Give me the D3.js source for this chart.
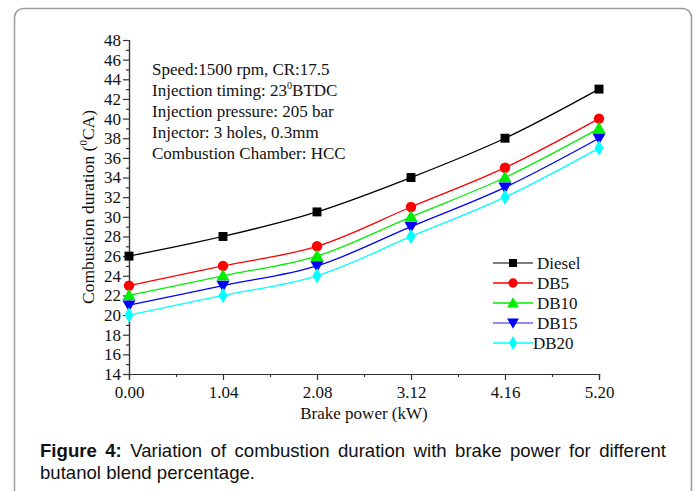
<!DOCTYPE html>
<html>
<head>
<meta charset="utf-8">
<script src="https://cdn.jsdelivr.net/npm/d3@7"></script>
<style>
  body { margin:0; background:#fff; }
  #wrap { position:relative; width:696px; height:491px; overflow:hidden; }
  .cap { position:absolute; left:40px; width:626px; font-family:"Liberation Sans", Arial, sans-serif; font-size:18.6px; color:#111; line-height:22px; }
  .cap1 { top:440px; text-align:justify; text-align-last:justify; }
  .cap2 { top:462px; }
</style>
</head>
<body>
<div id="wrap">
  <div id="chart"></div>
  <div class="cap cap1"><b>Figure 4:</b> Variation of combustion duration with brake power for different</div>
  <div class="cap cap2">butanol blend percentage.</div>
</div>
<script>
// data
var power = [0.00, 1.04, 2.08, 3.12, 4.16, 5.20];
var diesel = [26, 28, 30.5, 34, 38, 43];
var db5 = [23, 25, 27, 31, 35, 40];
var db10 = [22, 24, 26, 30, 34, 39];
var db15 = [21, 23, 25, 29, 33, 38];
var db20 = [20, 22, 24, 28, 32, 37];
var seriesNames = ["Diesel", "DB5", "DB10", "DB15", "DB20"];
var yTicks = d3.range(14, 49, 2);
var notes = ["Speed:1500 rpm, CR:17.5", "Injection timing: 23", "Injection pressure: 205 bar",
             "Injector: 3 holes, 0.3mm", "Combustion Chamber: HCC"];

var series = [
  {name: seriesNames[0], vals: diesel, color: "#000000", sym: d3.symbolSquare, size: 80, rot: 0},
  {name: seriesNames[1], vals: db5, color: "#ff0000", sym: d3.symbolCircle, size: 85, rot: 0},
  {name: seriesNames[2], vals: db10, color: "#00ee00", sym: d3.symbolTriangle, size: 75, rot: 0},
  {name: seriesNames[3], vals: db15, color: "#0000ff", sym: d3.symbolTriangle, size: 75, rot: 180},
  {name: seriesNames[4], vals: db20, color: "#00ffff", sym: d3.symbolDiamond, size: 70, rot: 0}
];

var fullWidth = 696, fullHeight = 491;
var margin = {top:40, left:129};
var width = 470, height = 334;

var root = d3.select("#chart").append("svg")
  .attr("width", fullWidth).attr("height", fullHeight);

// figure frame
root.append("rect").attr("x", 14.5).attr("y", 8.5).attr("width", 677).attr("height", 520)
  .attr("rx", 9).attr("fill", "none").attr("stroke", "#9a9a9a").attr("stroke-width", 1.5);

var svg = root.append("g").attr("transform", "translate(" + margin.left + "," + margin.top + ")");

var xScale = d3.scaleLinear().domain([0, 5.2]).range([0, width]);
var yScale = d3.scaleLinear().domain([14, 48]).range([height, 0]);

var serif = "'Liberation Serif', 'Times New Roman', serif";

// minor ticks
var yMinor = d3.axisLeft(yScale).tickValues(d3.range(15, 48, 2)).tickSize(3).tickFormat("");
var xMinor = d3.axisBottom(xScale).tickValues([0.52, 1.56, 2.6, 3.64, 4.68]).tickSize(3).tickFormat("");
svg.append("g").call(yMinor);
svg.append("g").attr("transform", "translate(0," + height + ")").call(xMinor);

var yAxis = d3.axisLeft(yScale).tickValues(yTicks).tickSize(6).tickPadding(2).tickFormat(d3.format("d"));
var xAxis = d3.axisBottom(xScale).tickValues(power).tickSize(6).tickPadding(6).tickFormat(d3.format(".2f"));
svg.append("g").attr("class", "ya").call(yAxis);
svg.append("g").attr("class", "xa").attr("transform", "translate(0," + height + ")").call(xAxis);

svg.selectAll(".domain, .tick line").attr("stroke", "#333").attr("stroke-width", 1.2);
svg.selectAll(".tick text").attr("font-family", serif).attr("font-size", 17).attr("fill", "#111");

// axis titles
svg.append("text").attr("x", width / 2).attr("y", height + 45)
  .attr("text-anchor", "middle").attr("font-family", serif).attr("font-size", 17).attr("fill", "#111")
  .text("Brake power (kW)");
var yt = svg.append("text").attr("transform", "translate(-35," + (height / 2) + ") rotate(-90)")
  .attr("text-anchor", "middle").attr("font-family", serif).attr("font-size", 17.5).attr("fill", "#111");
yt.append("tspan").text("Combustion duration (");
yt.append("tspan").attr("font-size", 11).attr("dy", -7).text("0");
yt.append("tspan").attr("dy", 7).text("CA)");

// lines + markers
var line = d3.line()
  .x(function(d, i) { return xScale(power[i]); })
  .y(function(d) { return yScale(d); })
  .curve(d3.curveCatmullRom.alpha(0.5));

series.forEach(function(s) {
  svg.append("path").attr("d", line(s.vals)).attr("fill", "none")
    .attr("stroke", s.color).attr("stroke-width", 1.3);
  svg.selectAll(null).data(s.vals).enter().append("path")
    .attr("d", d3.symbol().type(s.sym).size(s.size))
    .attr("transform", function(d, i) {
      var dy = s.sym === d3.symbolTriangle ? (s.rot ? -1 : 1) : 0;
      return "translate(" + xScale(power[i]) + "," + (yScale(d) + dy) + ") rotate(" + s.rot + ")";
    })
    .attr("fill", s.color);
});

// annotation block
var nt = svg.append("g").attr("font-family", serif).attr("font-size", 17).attr("fill", "#111");
notes.forEach(function(t, i) {
  var tx = nt.append("text").attr("x", 23).attr("y", 35 + i * 21);
  tx.append("tspan").text(t);
  if (i === 1) {
    tx.append("tspan").attr("font-size", 10).attr("dy", -7).text("0");
    tx.append("tspan").attr("dy", 7).text("BTDC");
  }
});

// legend
var lg = svg.append("g").attr("transform", "translate(364,223)");
series.forEach(function(s, i) {
  var g = lg.append("g").attr("transform", "translate(0," + (i * 20) + ")");
  g.append("line").attr("x1", 0).attr("x2", 40).attr("y1", 0).attr("y2", 0)
    .attr("stroke", i === 3 ? "#6666ff" : (i === 0 ? "#555" : s.color)).attr("stroke-width", 1.3);
  g.append("path").attr("d", d3.symbol().type(s.sym).size(s.size * 0.8))
    .attr("transform", "translate(20," + (s.sym === d3.symbolTriangle ? (s.rot ? -1 : 1) : 0) + ") rotate(" + s.rot + ")")
    .attr("fill", s.color);
  g.append("text").attr("x", i === 4 ? 40 : 44).attr("y", 5.5)
    .attr("font-family", serif).attr("font-size", 17).attr("fill", "#111").text(s.name);
});
</script>
</body>
</html>
